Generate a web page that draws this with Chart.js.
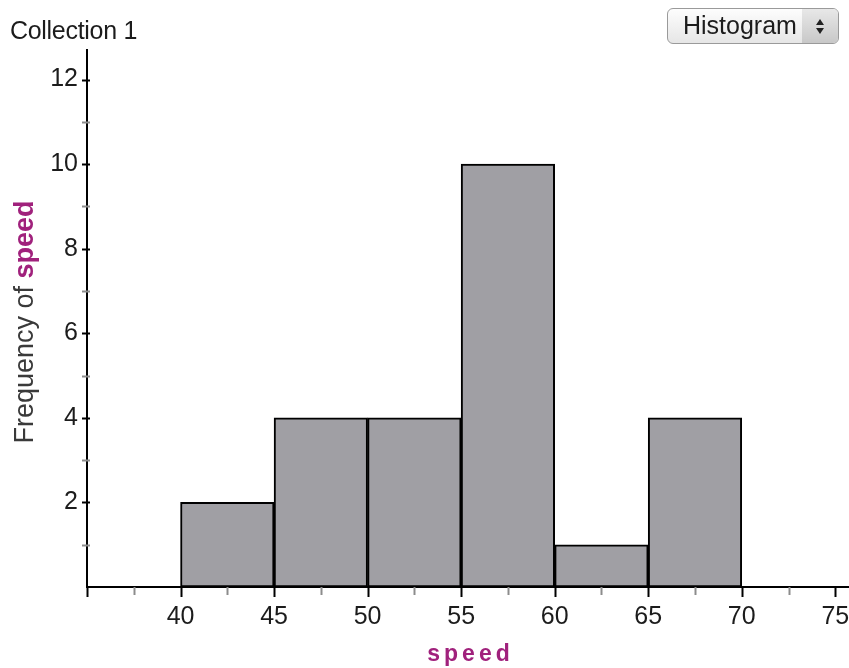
<!DOCTYPE html>
<html>
<head>
<meta charset="utf-8">
<script src="https://cdn.jsdelivr.net/npm/chart.js@4"></script>
<style>
  html, body { margin: 0; padding: 0; background: #fff; }
  #wrap { position: relative; width: 849px; height: 668px; font-family: "Liberation Sans", Arial, sans-serif; }
  #collection { position: absolute; left: 10px; top: 16px; font-size: 25px; color: #1c1c1c; letter-spacing: -0.3px; }
  #picker {
    position: absolute; left: 667px; top: 8px; width: 172px; height: 36px;
    box-sizing: border-box; border: 1px solid #9a9a9a; border-radius: 6px;
    background: linear-gradient(#fdfdfd, #e6e6e6);
    font-size: 25px; color: #1c1c1c; overflow: hidden;
  }
  #picker span { position: absolute; left: 15px; top: 2px; }
  #picker .arrows {
    position: absolute; right: 0; top: 0; width: 36px; height: 34px;
    background: linear-gradient(#e8e8e8, #c8c8c8);
  }
  #picker .up, #picker .down {
    position: absolute; left: 14px; width: 0; height: 0;
    border-left: 4px solid transparent; border-right: 4px solid transparent;
  }
  #picker .up { top: 10px; border-bottom: 6px solid #222; }
  #picker .down { top: 19px; border-top: 6px solid #222; }
</style>
</head>
<body>
<div id="wrap">
  <canvas id="histChart"></canvas>
  <div id="collection">Collection 1</div>
  <div id="picker"><span>Histogram</span><div class="arrows"><div class="up"></div><div class="down"></div></div></div>
</div>
<script>
// Data
const binStarts = [40, 45, 50, 55, 60, 65];
const binWidth = 5;
const frequencies = [2, 4, 4, 10, 1, 4];
const xMajorTicks = [35, 40, 45, 50, 55, 60, 65, 70, 75];
const xMinorTicks = [37.5, 42.5, 47.5, 52.5, 57.5, 62.5, 67.5, 72.5];
const yTickValues = [0, 1, 2, 3, 4, 5, 6, 7, 8, 9, 10, 11, 12];
const attrName = 'speed';

const magenta = '#a0217c';
const fontFam = '"Liberation Sans", Arial, sans-serif';

// tick marks + axis titles
const decorPlugin = {
    id: 'decor',
    afterDraw(chart) {
        const ctx = chart.ctx;
        const xs = chart.scales.x, ys = chart.scales.y;
        const area = chart.chartArea;
        ctx.save();
        ctx.lineWidth = 2;
        // x ticks
        const drawX = (v, major) => {
            const px = Math.round(xs.getPixelForValue(v)) + 0.5;
            ctx.strokeStyle = major ? '#000' : '#8c8c8c';
            ctx.beginPath();
            ctx.moveTo(px, area.bottom);
            ctx.lineTo(px, area.bottom + (major ? 10 : 8));
            ctx.stroke();
        };
        xMajorTicks.forEach(v => drawX(v, true));
        xMinorTicks.forEach(v => drawX(v, false));
        // y ticks
        yTickValues.forEach(v => {
            if (v === 0) return;
            const py = Math.round(ys.getPixelForValue(v)) + 0.5;
            const major = v % 2 === 0;
            ctx.strokeStyle = major ? '#000' : '#8c8c8c';
            ctx.beginPath();
            ctx.moveTo(area.left - 5, py);
            ctx.lineTo(area.left + 3, py);
            ctx.stroke();
        });

        // x title
        ctx.fillStyle = magenta;
        ctx.font = 'bold 23px ' + fontFam;
        ctx.textAlign = 'center';
        ctx.textBaseline = 'alphabetic';
        ctx.letterSpacing = '4px';
        ctx.fillText(attrName, (area.left + area.right) / 2 + 3, 661);
        ctx.letterSpacing = '0px';

        // y title, mixed style
        const part1 = 'Frequency of ';
        ctx.translate(33, 322);
        ctx.rotate(-Math.PI / 2);
        ctx.font = '27px ' + fontFam;
        const w1 = ctx.measureText(part1).width;
        ctx.font = 'bold 27px ' + fontFam;
        const w2 = ctx.measureText(attrName).width;
        let x0 = -(w1 + w2) / 2;
        ctx.textAlign = 'left';
        ctx.font = '27px ' + fontFam;
        ctx.fillStyle = '#3a3a3a';
        ctx.fillText(part1, x0, 0);
        ctx.font = 'bold 27px ' + fontFam;
        ctx.fillStyle = magenta;
        ctx.fillText(attrName, x0 + w1, 0);
        ctx.restore();
    }
};

new Chart(document.getElementById('histChart'), {
    type: 'bar',
    data: {
        datasets: [{
            data: binStarts.map((s, i) => ({ x: s + binWidth / 2, y: frequencies[i] })),
            backgroundColor: '#a09fa4',
            borderColor: '#000',
            borderWidth: 2,
            borderSkipped: false,
            barPercentage: 1,
            categoryPercentage: 1
        }]
    },
    options: {
        responsive: true,
        maintainAspectRatio: false,
        animation: false,
        layout: { padding: { left: 0, top: 50, right: 1, bottom: 0 } },
        plugins: { legend: { display: false }, tooltip: { enabled: false } },
        scales: {
            x: {
                type: 'linear',
                offset: false,
                min: 35,
                max: 75.68,
                afterBuildTicks: s => { s.ticks = xMajorTicks.map(v => ({ value: v })); },
                afterFit: s => { s.height = 81; s.paddingLeft = 0; s.paddingRight = 0; },
                grid: { display: false, drawTicks: false, offset: false },
                border: { display: true, color: '#000', width: 2 },
                ticks: {
                    autoSkip: false,
                    maxRotation: 0,
                    padding: 15,
                    color: '#1c1c1c',
                    font: { family: fontFam, size: 25 },
                    callback: v => v > 35 ? v : ''
                }
            },
            y: {
                min: 0,
                max: 12.7,
                afterBuildTicks: s => { s.ticks = yTickValues.map(v => ({ value: v })); },
                afterFit: s => { s.width = 87; s.paddingTop = 0; s.paddingBottom = 0; },
                grid: { display: false, drawTicks: false },
                border: { display: true, color: '#000', width: 2 },
                ticks: {
                    autoSkip: false,
                    padding: 9,
                    color: '#1c1c1c',
                    font: { family: fontFam, size: 25 },
                    callback: v => (v > 0 && v % 2 === 0) ? v : ''
                }
            }
        }
    },
    plugins: [decorPlugin]
});
</script>
</body>
</html>
